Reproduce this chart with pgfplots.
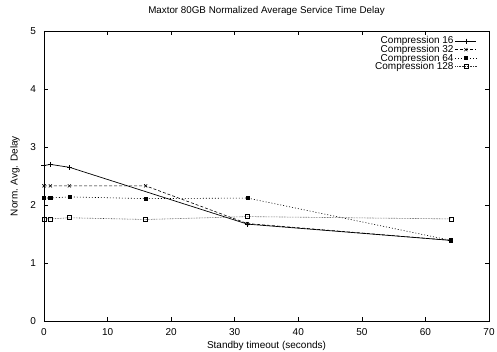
\documentclass[border=0pt]{standalone}
\usepackage{fontspec}
\setmainfont{Liberation Sans}
\usepackage{pgfplots}
\pgfplotsset{compat=1.18}
\begin{document}
\begin{tikzpicture}
\useasboundingbox (0,0) rectangle (497pt,352pt);
\begin{axis}[
  at={(44pt,31pt)}, anchor=south west,
  scale only axis, width=445pt, height=290pt,
  xmin=0, xmax=70, ymin=0, ymax=5,
  xtick={0,10,...,70}, ytick={0,1,...,5},
  tick align=inside, xtick pos=both, ytick pos=both,
  major tick length=4pt,
  every tick/.style={black, line width=0.6pt},
  axis line style={line width=0.9pt},
  clip=false,
  font=\fontsize{10}{12}\selectfont,
  /pgf/number format/assume math mode=true,
  xticklabel style={anchor=base, yshift=-15pt},
  yticklabel style={anchor=east, xshift=-4.5pt},
  title={Maxtor 80GB Normalized Average Service Time Delay},
  title style={at={(axis description cs:0.5,1)}, anchor=base, yshift=11.5pt, font=\fontsize{9.8}{12}\selectfont},
  xlabel={Standby timeout (seconds)},
  xlabel style={at={(axis description cs:0.5,0)}, anchor=base, yshift=-28pt},
  ylabel={Norm. Avg. Delay},
  every axis y label/.style={at={(axis description cs:0,0.5)}, rotate=90, anchor=center, yshift=29pt},
  legend cell align=right,
  legend plot pos=right,
  legend style={at={(1,1)}, anchor=north east, xshift=-9pt, yshift=-2pt, draw=none, fill=none,
    font=\fontsize{10}{12}\selectfont, row sep=-3.2pt, nodes={inner sep=1.5pt}},
  legend image code/.code={\draw[mark repeat=2,mark phase=2] plot coordinates {(0.08cm,0cm) (0.45cm,0cm) (0.82cm,0cm)};},
]
\addplot[black, line width=0.7pt, mark=+, mark size=2.5pt, mark options={solid}]
  coordinates {(0,2.68) (1,2.70) (4,2.65) (32,1.67) (64,1.39)};
\addlegendentry{Compression 16}
\addplot[black, line width=0.6pt, dash pattern=on 3pt off 2pt, mark=x, mark size=2.2pt, mark options={solid}]
  coordinates {(0,2.33) (1,2.33) (4,2.33) (16,2.33) (32,1.68) (64,1.39)};
\addlegendentry{Compression 32}
\addplot[black, line width=0.6pt, dash pattern=on 1pt off 2pt, mark=square*, mark size=1.6pt, mark options={solid}]
  coordinates {(0,2.12) (1,2.12) (4,2.14) (16,2.11) (32,2.12) (64,1.39)};
\addlegendentry{Compression 64}
\addplot[black!80, line width=0.6pt, dash pattern=on 0.6pt off 1pt, mark=square, mark size=2pt, mark options={solid, black, line width=0.6pt}]
  coordinates {(0,1.76) (1,1.76) (4,1.78) (16,1.75) (32,1.80) (64,1.76)};
\addlegendentry{Compression 128}
\end{axis}
\end{tikzpicture}
\end{document}
